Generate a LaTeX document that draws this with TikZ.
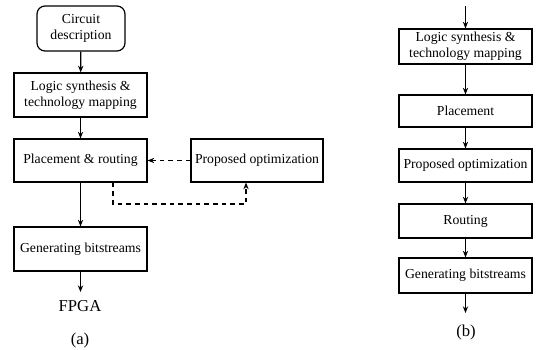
\documentclass[tikz,border=0pt]{standalone}
\usepackage{fontspec}
\setmainfont{Liberation Serif}
\usetikzlibrary{arrows.meta}

\begin{document}
\begin{tikzpicture}[x=0.75pt,y=-0.75pt,line width=0.9pt,
    every node/.style={inner sep=0pt,font=\fontsize{10.3}{12}\selectfont},
    flowbox/.style={draw,align=center,minimum width=99.75pt},
    startbox/.style={draw,rounded corners=6pt,align=center,minimum width=66pt,minimum height=33.75pt},
    bigtext/.style={font=\fontsize{12.5}{14}\selectfont},
    >={Stealth[length=5pt,width=4pt]}]
    \useasboundingbox (0,0) rectangle (540,350);
    % (a)
    \node [startbox] (cdA) at (81,28.5) {Circuit\\description};
    \node [flowbox,minimum height=33pt] (lsA) at (80.5,95) {Logic synthesis \&\\technology mapping};
    \node [flowbox,minimum height=32.25pt] (prA) at (80.5,160.5) {Placement \& routing};
    \node [flowbox,minimum height=32.25pt,minimum width=99pt] (poA) at (257,160.5) {Proposed optimization};
    \node [flowbox,minimum height=33pt] (gbA) at (80.5,249) {Generating bitstreams};
    \node [bigtext] (fpga) at (80,306) {FPGA};
    \node [bigtext] (capA) at (80,340) {(a)};
    \coordinate (dl) at (113,204);
    \coordinate (dr) at (246,204);
    \draw [->] (cdA) -- (lsA);
    \draw [->] (lsA) -- (prA);
    \draw [->] (prA) -- (gbA);
    \draw [->] (gbA.south) -- (80.5,292);
    \draw [->,dash pattern=on 3.5pt off 3pt] (poA) -- (prA);
    \draw [->,dash pattern=on 3.5pt off 3pt] (prA.south -| dl) -- (dl) -- (dr) -- (poA.south -| dr);
    % (b)
    \coordinate (inB) at (465.5,6);
    \node [flowbox,minimum height=26.25pt] (lsB) at (465.5,46.5) {Logic synthesis \&\\technology mapping};
    \node [flowbox,minimum height=24pt] (plB) at (465.5,111) {Placement};
    \node [flowbox,minimum height=24.75pt] (poB) at (465.5,165.5) {Proposed optimization};
    \node [flowbox,minimum height=25.5pt] (rtB) at (465.5,221) {Routing};
    \node [flowbox,minimum height=26.25pt] (gbB) at (465.5,275.5) {Generating bitstreams};
    \coordinate (outB) at (465.5,313);
    \node [bigtext] (capB) at (466,332) {(b)};
    \draw [->] (inB) -- (lsB);
    \draw [->] (lsB) -- (plB);
    \draw [->] (plB) -- (poB);
    \draw [->] (poB) -- (rtB);
    \draw [->] (rtB) -- (gbB);
    \draw [->] (gbB) -- (outB);
\end{tikzpicture}
\end{document}
